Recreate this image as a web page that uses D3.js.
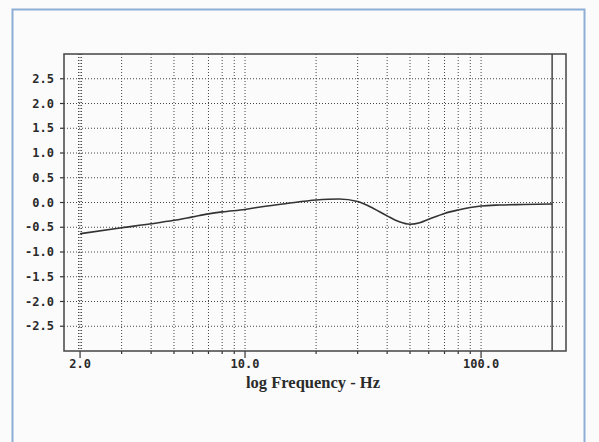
<!DOCTYPE html>
<html>
<head>
<meta charset="utf-8">
<script src="https://cdn.jsdelivr.net/npm/d3@7"></script>
<style>
body { margin: 0; background: #fbfbfb; }
svg { display: block; }
</style>
</head>
<body>
<script>
//Width and height
var w = 599;
var h = 442;

//Measured response (Hz, dB)
var freqs = [2, 3, 4, 5, 6, 7, 8, 10, 12, 15, 20, 25, 30, 35, 40, 45, 50, 55, 60, 70, 80, 90, 100, 120, 150, 200];
var levels = [-0.63, -0.51, -0.43, -0.36, -0.29, -0.23, -0.19, -0.14, -0.08, -0.02, 0.05, 0.07, 0.02, -0.12, -0.27, -0.39, -0.44, -0.41, -0.34, -0.22, -0.15, -0.10, -0.07, -0.05, -0.04, -0.03];

//Tick values and labels
var yTicks = [2.5, 2.0, 1.5, 1.0, 0.5, 0.0, -0.5, -1.0, -1.5, -2.0, -2.5];
var xGrid = [2, 3, 4, 5, 6, 7, 8, 9, 10, 20, 30, 40, 50, 60, 70, 80, 90, 100];
var xMajor = [2, 10, 100];
var xLabels = ["2.0", "10.0", "100.0"];
var endFreq = 200;

//Plot box
var pLeft = 64, pRight = 566, pTop = 54, pBottom = 351;

var x = d3.scaleLog().domain([1.71, 229]).range([pLeft, pRight]);
var y = d3.scaleLinear().domain([-3, 3]).range([pBottom, pTop]);

var svg = d3.select("body").append("svg")
	.attr("width", w)
	.attr("height", h);

//Blue frame of the page
svg.append("rect")
	.attr("x", 12.5).attr("y", 9.5)
	.attr("width", 572).attr("height", 440)
	.attr("fill", "none")
	.attr("stroke", "#8eaed6")
	.attr("stroke-width", 2);

//Horizontal grid
svg.selectAll(".hgrid")
	.data(yTicks)
	.enter().append("line")
	.attr("x1", pLeft).attr("x2", pRight - 3)
	.attr("y1", function(d) { return y(d); })
	.attr("y2", function(d) { return y(d); })
	.attr("stroke", "#444")
	.attr("stroke-width", 1)
	.attr("stroke-dasharray", "1,2");

//Vertical grid (2 Hz drawn double)
var vlines = xGrid.map(function(d) { return {f: d, dx: 0}; });
vlines.push({f: 2, dx: -1.5});
vlines.push({f: 2, dx: 1.5});
svg.selectAll(".vgrid")
	.data(vlines)
	.enter().append("line")
	.attr("x1", function(d) { return x(d.f) + d.dx; })
	.attr("x2", function(d) { return x(d.f) + d.dx; })
	.attr("y1", pTop).attr("y2", pBottom)
	.attr("stroke", "#444")
	.attr("stroke-width", 1)
	.attr("stroke-dasharray", "1,2");

//Bottom ticks
svg.selectAll(".xtick")
	.data(xGrid)
	.enter().append("line")
	.attr("x1", function(d) { return x(d); })
	.attr("x2", function(d) { return x(d); })
	.attr("y1", pBottom)
	.attr("y2", function(d) { return xMajor.indexOf(d) >= 0 ? pBottom + 7 : pBottom + 3; })
	.attr("stroke", "#333")
	.attr("stroke-width", 1.2);

//Left ticks
svg.selectAll(".ytick")
	.data(yTicks)
	.enter().append("line")
	.attr("x1", pLeft - 4).attr("x2", pLeft)
	.attr("y1", function(d) { return y(d); })
	.attr("y2", function(d) { return y(d); })
	.attr("stroke", "#333")
	.attr("stroke-width", 1.2);

//Y labels
svg.selectAll(".ylab")
	.data(yTicks)
	.enter().append("text")
	.attr("x", 54)
	.attr("y", function(d) { return y(d) + 4; })
	.attr("text-anchor", "end")
	.attr("font-family", "DejaVu Sans Mono")
	.attr("font-weight", "bold")
	.attr("font-size", 12)
	.attr("fill", "#2a2a2a")
	.text(function(d) { return d.toFixed(1); });

//X labels
svg.selectAll(".xlab")
	.data(xMajor)
	.enter().append("text")
	.attr("x", function(d) { return x(d); })
	.attr("y", 368)
	.attr("text-anchor", "middle")
	.attr("font-family", "DejaVu Sans Mono")
	.attr("font-weight", "bold")
	.attr("font-size", 12)
	.attr("fill", "#2a2a2a")
	.text(function(d, i) { return xLabels[i]; });

//Axis title
svg.append("text")
	.attr("x", 313)
	.attr("y", 388)
	.attr("text-anchor", "middle")
	.attr("font-family", "Liberation Serif")
	.attr("font-weight", "bold")
	.attr("font-size", 16.5)
	.attr("fill", "#2a2a2a")
	.text("log Frequency - Hz");

//Plot box
svg.append("rect")
	.attr("x", pLeft).attr("y", pTop)
	.attr("width", pRight - pLeft).attr("height", pBottom - pTop)
	.attr("fill", "none")
	.attr("stroke", "#444")
	.attr("stroke-width", 1.5);

//Solid line at end of sweep
svg.append("line")
	.attr("x1", x(endFreq)).attr("x2", x(endFreq))
	.attr("y1", pTop).attr("y2", pBottom)
	.attr("stroke", "#444")
	.attr("stroke-width", 1.5);

//Response curve
var line = d3.line()
	.x(function(d) { return x(d[0]); })
	.y(function(d) { return y(d[1]); })
	.curve(d3.curveMonotoneX);

svg.append("path")
	.datum(d3.zip(freqs, levels))
	.attr("d", line)
	.attr("fill", "none")
	.attr("stroke", "#333")
	.attr("stroke-width", 1.6);
</script>
</body>
</html>
